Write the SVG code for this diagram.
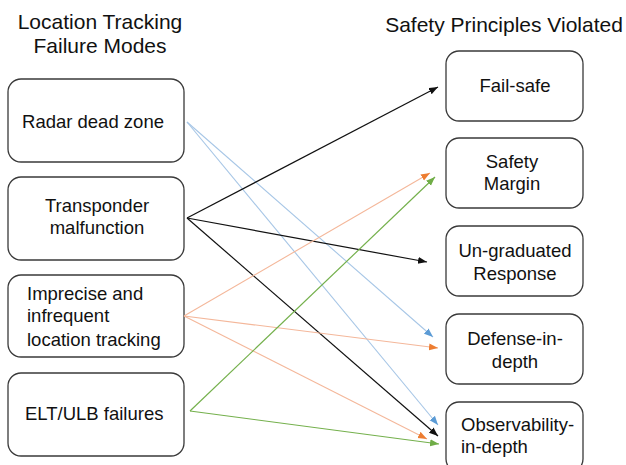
<svg xmlns="http://www.w3.org/2000/svg" width="626" height="465" viewBox="0 0 626 465">
  <style>
    .box { fill: #ffffff; stroke: #3a3a3a; stroke-width: 1.3; }
    .t { font-family: "Liberation Sans", Arial, sans-serif; font-size: 18.5px; fill: #111111; }
    .c { text-anchor: middle; }
    .title { font-family: "Liberation Sans", Arial, sans-serif; font-size: 21px; fill: #111111; }
    .blk { stroke: #111111; stroke-width: 1.2; fill: none; marker-end: url(#ah-black); }
    .blu { stroke: #a7c6e6; stroke-width: 1.1; fill: none; marker-end: url(#ah-blue); }
    .org { stroke: #f4b79a; stroke-width: 1.1; fill: none; marker-end: url(#ah-orange); }
    .grn { stroke: #74b04c; stroke-width: 1.2; fill: none; marker-end: url(#ah-green); }
  </style>
  <defs>
    <marker id="ah-black" markerUnits="userSpaceOnUse" markerWidth="10" markerHeight="8" refX="9" refY="3.5" orient="auto">
      <path d="M0,0 L9,3.5 L0,7 z" fill="#111111"/>
    </marker>
    <marker id="ah-blue" markerUnits="userSpaceOnUse" markerWidth="10" markerHeight="8" refX="9" refY="3.5" orient="auto">
      <path d="M0,0 L9,3.5 L0,7 z" fill="#5b9bd5"/>
    </marker>
    <marker id="ah-orange" markerUnits="userSpaceOnUse" markerWidth="10" markerHeight="8" refX="9" refY="3.5" orient="auto">
      <path d="M0,0 L9,3.5 L0,7 z" fill="#ed7d31"/>
    </marker>
    <marker id="ah-green" markerUnits="userSpaceOnUse" markerWidth="10" markerHeight="8" refX="9" refY="3.5" orient="auto">
      <path d="M0,0 L9,3.5 L0,7 z" fill="#70ad47"/>
    </marker>
  </defs>

  <rect width="626" height="465" fill="#ffffff"/>

  <!-- column headings -->
  <text class="title" x="100" y="29" text-anchor="middle">Location Tracking</text>
  <text class="title" x="100" y="53" text-anchor="middle">Failure Modes</text>
  <text class="title" x="504" y="32" text-anchor="middle">Safety Principles Violated</text>

  <!-- failure modes -->
  <g id="radar-dead-zone">
    <rect class="box" x="8" y="79" width="176" height="83" rx="13"/>
    <text class="t c" x="93" y="128">Radar dead zone</text>
  </g>
  <g id="transponder-malfunction">
    <rect class="box" x="8" y="177" width="176" height="83" rx="13"/>
    <text class="t c" x="97" y="212">Transponder</text>
    <text class="t c" x="97" y="234">malfunction</text>
  </g>
  <g id="imprecise-tracking">
    <rect class="box" x="8" y="275" width="176" height="82" rx="13"/>
    <text class="t" x="27" y="300">Imprecise and</text>
    <text class="t" x="27" y="322">infrequent</text>
    <text class="t" x="27" y="346">location tracking</text>
  </g>
  <g id="elt-ulb-failures">
    <rect class="box" x="8" y="373" width="176" height="83" rx="13"/>
    <text class="t" x="25" y="420">ELT/ULB failures</text>
  </g>

  <!-- safety principles -->
  <g id="fail-safe">
    <rect class="box" x="446" y="51" width="137" height="70" rx="13"/>
    <text class="t c" x="515" y="92">Fail-safe</text>
  </g>
  <g id="safety-margin">
    <rect class="box" x="446" y="138" width="137" height="70" rx="13"/>
    <text class="t c" x="512" y="168">Safety</text>
    <text class="t c" x="512" y="190">Margin</text>
  </g>
  <g id="ungraduated-response">
    <rect class="box" x="446" y="226" width="137" height="70" rx="13"/>
    <text class="t c" x="515" y="257">Un-graduated</text>
    <text class="t c" x="515" y="280">Response</text>
  </g>
  <g id="defense-in-depth">
    <rect class="box" x="446" y="314" width="137" height="70" rx="13"/>
    <text class="t c" x="515" y="345">Defense-in-</text>
    <text class="t c" x="515" y="368">depth</text>
  </g>
  <g id="observability-in-depth">
    <rect class="box" x="446" y="402" width="137" height="70" rx="13"/>
    <text class="t" x="461" y="431">Observability-</text>
    <text class="t" x="461" y="453">in-depth</text>
  </g>

  <!-- connectors -->
  <g id="connectors">
    <path class="blu" d="M187,122 L433,337"/>
    <path class="blu" d="M187,122 L438,425"/>
    <path class="blk" d="M187,218 L438,87"/>
    <path class="blk" d="M187,218 L427,262"/>
    <path class="blk" d="M187,218 L438,436"/>
    <path class="org" d="M184,316 L430,173"/>
    <path class="org" d="M184,316 L438,348"/>
    <path class="org" d="M184,316 L427,439"/>
    <path class="grn" d="M190,411 L435,177"/>
    <path class="grn" d="M190,411 L439,444"/>
  </g>
</svg>
